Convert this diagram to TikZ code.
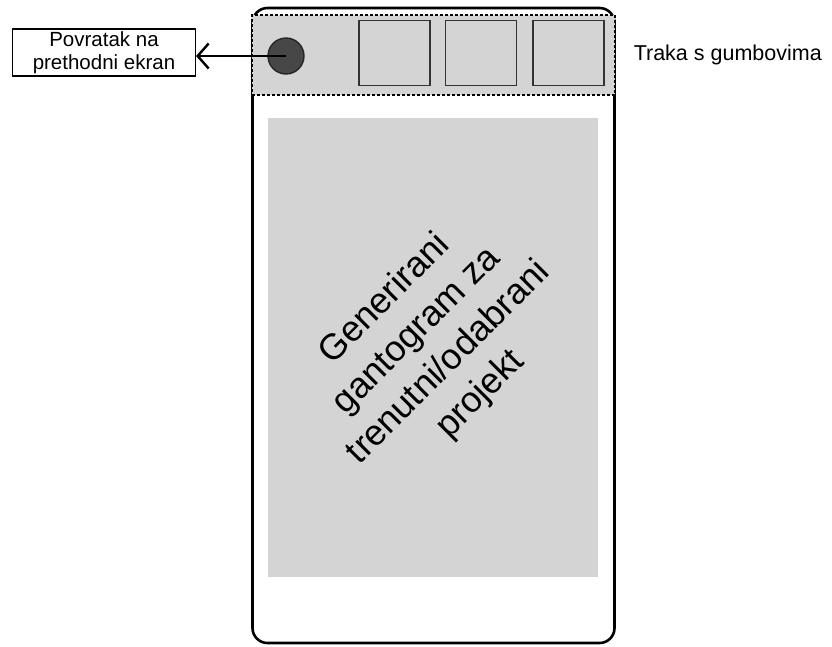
\documentclass[tikz,border=0pt]{standalone}
\usepackage{fontspec}
\setmainfont{Liberation Sans}
\usetikzlibrary{positioning,arrows.meta}
\definecolor{screengray}{HTML}{D4D4D4}
\definecolor{knobgray}{HTML}{474747}
\tikzset{
  phone/.style={draw,rectangle,rounded corners=15pt,line width=2.6pt,minimum width=362pt,minimum height=635pt},
  bar/.style={draw,densely dashed,line width=1.1pt,fill=screengray,minimum width=363pt,minimum height=80pt},
  btn/.style={draw=black!80,line width=1.4pt,fill=screengray,minimum width=71pt,minimum height=65pt},
  knob/.style={draw=black!85,circle,line width=1.4pt,fill=knobgray,minimum size=36pt},
  lbl/.style={draw,line width=1.1pt,minimum width=183pt,minimum height=47pt,inner sep=1pt,align=center,font=\fontsize{20.5}{22.5}\selectfont},
  arr/.style={-{Straight Barb[length=11pt,width=25pt,line width=2.4pt]},line width=2.4pt}
}

\begin{document}
\begin{tikzpicture}[x=1pt,y=-1pt]
\useasboundingbox (0,0) rectangle (832,646);

\node[phone] (phone) at (433.5,325.5) {};
\node[bar] (bar) at (433.5,55) {};
\node[btn] (btn1) at (394.5,53) {};
\node[btn] (btn2) at (481,53) {};
\node[btn] (btn3) at (568.5,53) {};
\node[knob] (back) at (286,56) {};

\node[fill=screengray,minimum width=330pt,minimum height=459pt] (chart) at (433,347.5) {};
\node[rotate=45,align=center,font=\fontsize{36}{45}\selectfont] (charttxt) at (433,347)
  {Generirani\\gantogram za\\trenutni/odabrani\\projekt};

\node[lbl] (backlbl) at (104,52.5) {Povratak na\\prethodni ekran};
\node[right=16pt of bar,inner sep=2pt,font=\fontsize{21.5}{24}\selectfont] (barlbl) {Traka s gumbovima};

\draw[arr] (back.center) -- (back.center -| backlbl.east);

\end{tikzpicture}
\end{document}
